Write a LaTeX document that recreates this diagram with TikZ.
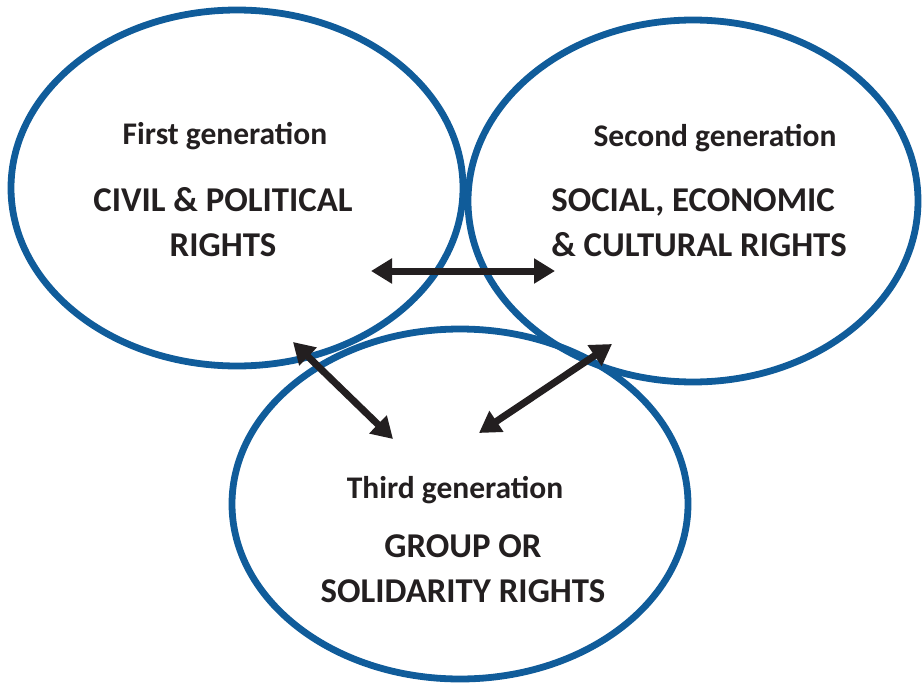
\documentclass[tikz,border=0pt]{standalone}
\usepackage{fontspec}
\setmainfont{Carlito}
\usetikzlibrary{shapes.geometric,arrows.meta}

\definecolor{genblue}{RGB}{16,92,154}
\definecolor{gentext}{RGB}{35,31,32}

\begin{document}
\begin{tikzpicture}[x=1pt, y=-1pt,
  gen/.style={draw=genblue, line width=6.8pt, ellipse, inner sep=0pt},
  head/.style={font=\fontsize{31.5}{36}\selectfont\bfseries, text=gentext, anchor=base},
  body/.style={font=\fontsize{34.8}{45}\selectfont\bfseries, text=gentext, anchor=base, align=center},
  link/.style={line width=7pt, draw=gentext, {Triangle[length=21pt,width=24pt]}-{Triangle[length=21pt,width=24pt]}}]

\useasboundingbox (0,0) rectangle (923,685);

\node[gen, minimum width=452pt, minimum height=356pt] (first) at (237,188) {};
\node[gen, minimum width=450pt, minimum height=362pt] (second) at (693,201) {};
\node[gen, minimum width=456pt, minimum height=350pt] (third) at (460,504) {};

% anchor=base sits on the last line
\node[head] (firsthead) at (225,144) {First generation};
\node[body] (firstbody) at (223,256) {CIVIL \& POLITICAL\\RIGHTS};

\node[head] (secondhead) at (715,146) {Second generation};
\node[body, align=left] (secondbody) at (699,256) {SOCIAL, ECONOMIC\\\& CULTURAL RIGHTS};

\node[head] (thirdhead) at (455,498) {Third generation};
\node[body] (thirdbody) at (463,602) {GROUP OR\\SOLIDARITY RIGHTS};

\coordinate (fs) at (371,271);
\coordinate (sf) at (555,271);
\coordinate (ft) at (293,342);
\coordinate (tf) at (393,439);
\coordinate (st) at (612,344);
\coordinate (ts) at (479,433);

\draw[link] (fs) -- (sf);
\draw[link] (ft) -- (tf);
\draw[link] (st) -- (ts);

\end{tikzpicture}
\end{document}
